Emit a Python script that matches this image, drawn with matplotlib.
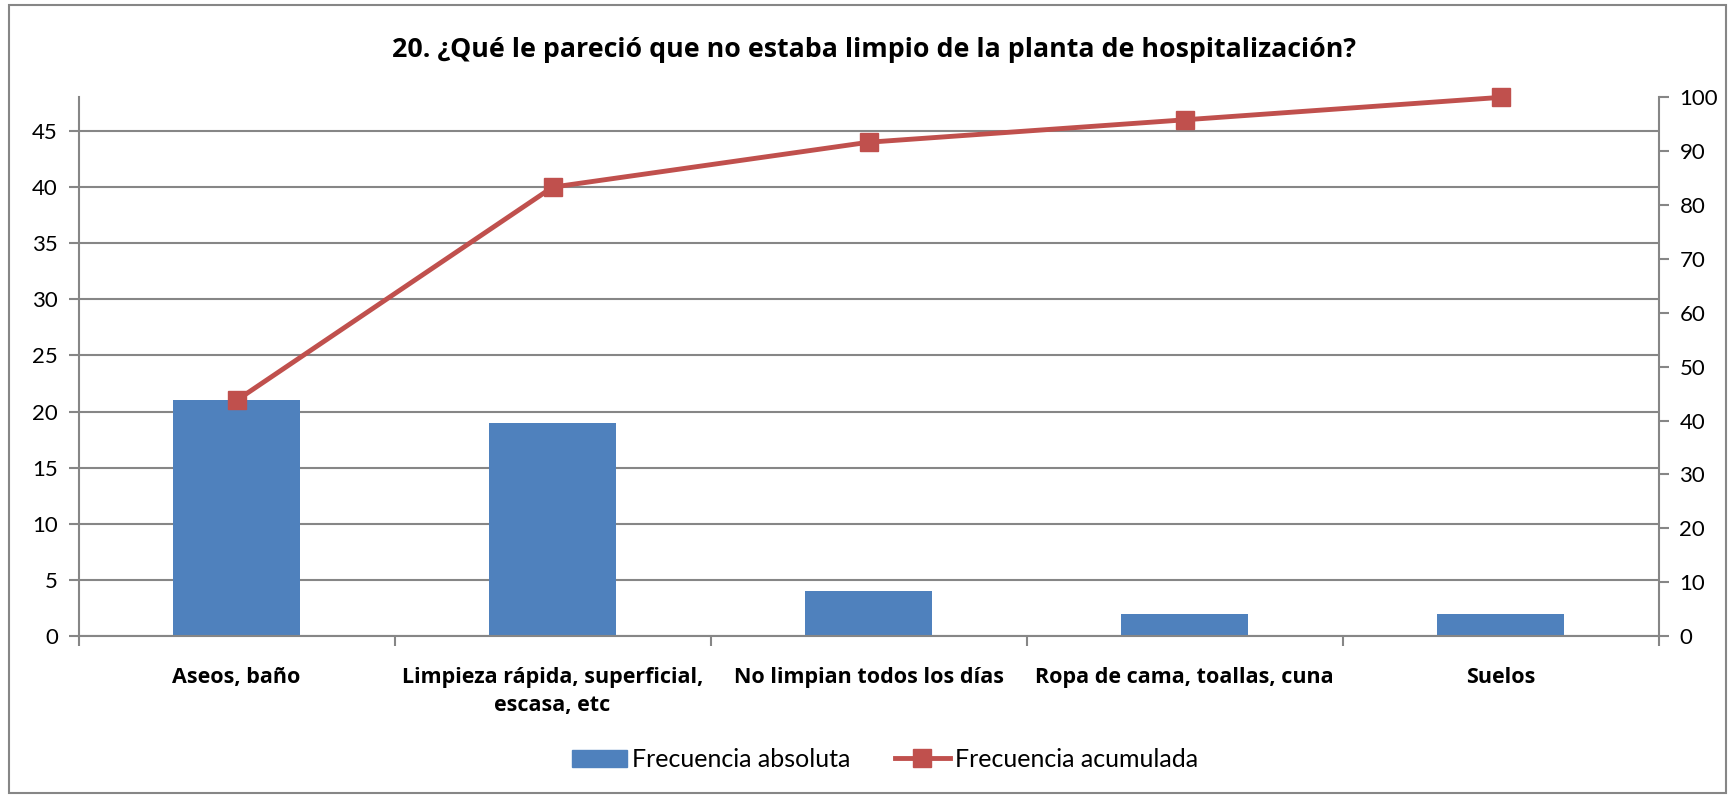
import numpy as np
import matplotlib.pyplot as plt
from matplotlib.patches import Rectangle
from matplotlib.lines import Line2D

plt.rcParams['font.family'] = ['Lato', 'DejaVu Sans']
negrita = ['Open Sans', 'DejaVu Sans']

# datos
categorias = ['Aseos, baño', 'Limpieza rápida, superficial,\nescasa, etc',
              'No limpian todos los días', 'Ropa de cama, toallas, cuna', 'Suelos']
frec_abs = [21, 19, 4, 2, 2]
frec_acum = [43.75, 83.33, 91.67, 95.83, 100.0]

azul = '#4F81BD'
rojo = '#C0504D'
gris = '#868686'

fig = plt.figure(figsize=(17.35, 7.98), dpi=100)
ax = fig.add_axes([0.0453, 0.203, 0.9107, 0.675])
x = np.arange(len(categorias))

ax.bar(x, frec_abs, width=0.4, color=azul, zorder=2)
ax.set_xlim(-0.5, len(categorias) - 0.5)
ax.set_ylim(0, 48)
ax.set_yticks(range(0, 50, 5))
ax.yaxis.grid(True, color=gris, lw=1.5, zorder=0)
ax.set_axisbelow(True)

# ticks del eje x en los limites de categoria, etiquetas en el centro
ax.set_xticks(np.arange(-0.5, len(categorias), 1.0))
ax.set_xticklabels([])
ax.set_xticks(x, minor=True)
ax.set_xticklabels(categorias, minor=True, fontsize=15.5, fontweight='bold', family=negrita,
                   linespacing=1.45)
ax.tick_params(axis='x', which='minor', length=0, pad=22)
ax.tick_params(axis='x', which='major', length=7, color=gris, width=1.5)
ax.tick_params(axis='y', length=7, color=gris, width=1.5, labelsize=16, pad=8)

for s in ['top', 'right']:
    ax.spines[s].set_visible(False)
for s in ['left', 'bottom']:
    ax.spines[s].set_color(gris)
    ax.spines[s].set_linewidth(1.5)

ax2 = ax.twinx()
ax2.plot(x, frec_acum, color=rojo, lw=3.5, marker='s', markersize=13, zorder=3, clip_on=False)
ax2.set_ylim(0, 100)
ax2.set_yticks(range(0, 101, 10))
ax2.tick_params(axis='y', length=7, color=gris, width=1.5, labelsize=16, pad=8)
for s in ['top', 'left', 'bottom']:
    ax2.spines[s].set_visible(False)
ax2.spines['right'].set_color(gris)
ax2.spines['right'].set_linewidth(1.5)

fig.text(0.504, 0.937, '20. ¿Qué le pareció que no estaba limpio de la planta de hospitalización?',
         ha='center', va='center', fontsize=19.3, fontweight='bold', family=negrita)

handles = [Rectangle((0, 0), 1, 1, color=azul),
           Line2D([0], [0], color=rojo, lw=3.5, marker='s', markersize=13)]
fig.legend(handles, ['Frecuencia absoluta', 'Frecuencia acumulada'],
           loc='center', bbox_to_anchor=(0.51, 0.048), ncol=2, frameon=False,
           fontsize=18, handlelength=2.2, columnspacing=1.8, handletextpad=0.2)

# marco del grafico
fig.patches.append(Rectangle((0.005, 0.006), 0.99, 0.988, transform=fig.transFigure,
                             fill=False, edgecolor=gris, lw=1.5))

fig.savefig('out.png', dpi=100)
